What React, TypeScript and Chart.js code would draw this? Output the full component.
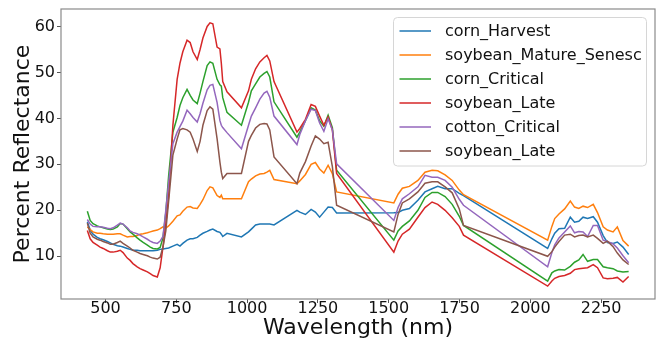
import { useEffect, useRef } from "react";
import { Chart, registerables } from "chart.js";

Chart.register(...registerables);

// Band centres (nm); gaps are the water-absorption bands that were dropped.
const wavelengths = [
  436, 446, 456, 471, 481, 492, 507, 517, 527, 542,
  552, 562, 577, 587, 597, 612, 622, 633, 648, 658,
  668, 683, 693, 703, 713, 723, 738, 753, 763, 773,
  788, 799, 809, 824, 834, 844, 859, 869, 879, 894,
  904, 909, 914, 929, 980, 1005, 1015, 1030, 1045, 1060,
  1070, 1080, 1095, 1176, 1186, 1206, 1226, 1241, 1256, 1271,
  1286, 1301, 1316, 1518, 1533, 1548, 1573, 1603, 1628, 1653,
  1673, 1699, 1724, 1749, 1764, 2061, 2076, 2086, 2101, 2121,
  2141, 2156, 2171, 2186, 2202, 2222, 2237, 2257, 2272, 2292,
  2307, 2327, 2347,
];

const cornHarvest = [
  17.5, 15.7, 14.8, 14.1, 13.8, 13.6, 13.2, 12.9, 12.6, 12.3,
  12.2, 12.0, 11.7, 11.5, 11.3, 11.3, 11.2, 11.2, 11.2, 11.2,
  11.2, 11.3, 11.5, 11.6, 11.7, 11.8, 12.2, 12.6, 12.2, 12.8,
  13.5, 13.8, 13.8, 14.1, 14.6, 15.0, 15.4, 15.7, 15.9, 15.4,
  15.2, 14.8, 14.3, 15.0, 14.2, 15.3, 15.9, 16.8, 17.0, 17.0,
  17.0, 17.0, 16.8, 20.0, 19.6, 19.1, 20.2, 19.6, 18.5, 19.6,
  20.7, 20.6, 19.4, 19.45, 19.5, 20.0, 20.4, 22.2, 24.0, 24.7,
  25.2, 24.7, 24.7, 23.7, 23.2, 11.7, 13.8, 15.0, 16.0, 16.1,
  18.5, 17.4, 17.6, 18.5, 18.2, 18.6, 17.4, 14.5, 13.0, 12.8,
  13.1, 12.0, 10.4,
];

const soybeanMatureSenesc = [
  16.4, 15.8, 15.3, 15.0, 15.0, 14.9, 14.8, 14.8, 14.8, 14.9,
  14.9, 14.6, 14.2, 14.3, 14.3, 14.5, 14.8, 14.9, 15.1, 15.3,
  15.5, 15.7, 16.0, 16.4, 16.1, 16.6, 17.6, 18.8, 19.0, 19.8,
  20.7, 20.8, 20.5, 20.4, 21.3, 22.3, 24.3, 25.1, 24.9, 23.2,
  22.8, 23.3, 22.5, 22.5, 22.5, 26.2, 26.8, 27.5, 27.9, 28.0,
  28.3, 28.7, 26.7, 25.8, 26.4, 27.8, 30.0, 30.4, 29.0, 28.1,
  29.8, 28.0, 24.0, 21.6, 23.5, 24.8, 25.2, 26.5, 28.3, 28.7,
  28.6, 27.7, 26.5, 24.4, 23.4, 13.5, 16.5, 18.2, 19.2, 20.3,
  22.0, 20.7, 20.4, 20.9, 20.6, 21.3, 19.5, 16.4, 15.7, 15.3,
  16.4, 13.4, 12.2,
];

const cornCritical = [
  19.8, 17.8, 17.1, 16.6, 16.4, 16.2, 15.9, 15.8, 15.9, 16.4,
  17.1, 17.0, 16.0, 15.3, 14.8, 14.0, 13.5, 13.0, 12.4, 12.0,
  11.7, 11.6, 11.9, 14.0, 19.5, 27.5, 37.0, 40.2, 42.8, 44.5,
  46.3, 45.0, 44.0, 43.2, 45.5, 48.0, 51.5, 52.3, 52.0, 48.5,
  47.3, 47.0, 44.5, 41.3, 38.5, 43.5, 46.0, 47.5, 49.0, 49.8,
  50.2, 49.0, 43.6, 35.9, 37.0, 39.5, 42.3, 41.8, 39.5, 38.3,
  40.7, 38.0, 28.7, 13.5, 15.5, 16.5, 17.7, 20.0, 22.8, 23.9,
  23.9, 23.0, 21.3, 18.7, 16.7, 4.6, 6.4, 6.8, 7.1, 7.0,
  7.8, 8.7, 9.2, 10.4, 8.9, 9.3, 9.3, 7.7, 7.5, 7.3,
  6.8, 6.6, 6.7,
];

const soybeanLateA = [
  15.6, 13.8, 13.0, 12.4, 12.0, 11.7, 11.2, 10.9, 10.9, 11.1,
  11.3, 10.8, 9.6, 9.1, 8.4, 7.7, 7.3, 7.0, 6.6, 6.2,
  5.8, 5.5, 7.5, 12.0, 17.0, 23.0, 38.5, 48.5, 52.0, 54.5,
  57.0, 56.5, 54.5, 52.8, 55.0, 57.5, 60.0, 60.8, 60.6, 55.5,
  55.1, 52.0, 48.0, 45.8, 42.3, 46.0, 48.5, 50.8, 52.3, 53.2,
  53.7, 52.5, 48.0, 37.0, 37.8, 39.8, 43.0, 42.6, 40.5, 38.5,
  40.3, 37.5, 28.0, 10.9, 13.3, 14.8, 15.9, 18.5, 20.6, 21.8,
  21.3, 20.0, 18.4, 16.5, 14.6, 3.5, 4.6, 5.2, 5.6, 5.8,
  6.3, 7.1, 7.3, 7.4, 7.5, 8.2, 7.5, 5.3, 5.1, 5.2,
  5.4, 4.4, 5.6,
];

const cottonCritical = [
  18.0, 17.0, 16.5, 16.4, 16.4, 16.3, 16.1, 16.0, 16.2, 16.8,
  17.2, 17.0, 16.2, 15.5, 15.2, 14.9, 14.6, 14.2, 13.7, 13.3,
  13.0, 12.8, 13.3, 14.3, 20.0, 26.0, 34.5, 37.0, 38.2, 39.4,
  41.8, 41.0, 40.2, 39.2, 41.0, 43.3, 46.2, 47.2, 47.4, 43.5,
  39.5, 38.5, 38.0, 36.9, 33.4, 38.5, 40.5, 42.3, 44.2, 45.5,
  45.9, 44.6, 40.5, 34.3, 36.5, 39.5, 42.0, 41.7, 39.0, 37.2,
  39.9, 37.5, 30.1, 17.8, 20.6, 22.5, 23.6, 25.1, 27.6, 27.2,
  27.2, 26.5, 25.0, 22.4, 21.1, 7.7, 10.8, 12.5, 14.0, 15.3,
  16.6, 15.1, 15.4, 15.3, 14.3, 16.7, 16.7, 13.5, 13.2, 12.7,
  11.8, 10.1, 8.6,
];

const soybeanLateB = [
  17.2, 15.0, 14.2, 13.7, 13.5, 13.2, 12.9, 12.6, 12.6, 13.0,
  13.3, 12.8, 12.2, 11.8, 11.3, 10.9, 10.6, 10.4, 10.1, 9.8,
  9.6, 9.4, 9.8, 12.0, 15.5, 22.0, 32.0, 35.5, 37.5, 37.8,
  37.5, 37.0, 35.5, 32.8, 35.0, 38.5, 41.7, 42.5, 42.0, 35.6,
  30.5, 28.3, 26.9, 28.0, 28.0, 35.0, 36.3, 37.9, 38.7, 38.9,
  38.8, 37.5, 31.6, 25.8, 28.1, 30.6, 34.0, 36.2, 35.5, 34.5,
  34.8, 29.5, 21.1, 15.3, 19.1, 21.6, 22.5, 24.0, 25.9, 26.2,
  26.2, 25.1, 23.8, 20.3, 16.7, 10.0, 11.0, 12.0, 13.2, 14.6,
  14.8, 14.2, 14.5, 14.6, 14.2, 14.6, 13.9, 12.8, 13.3, 12.1,
  10.7, 9.2, 8.2,
];

const seriesLabels = [
  "corn_Harvest",
  "soybean_Mature_Senesc",
  "corn_Critical",
  "soybean_Late",
  "cotton_Critical",
  "soybean_Late",
];
const seriesValues = [
  cornHarvest,
  soybeanMatureSenesc,
  cornCritical,
  soybeanLateA,
  cottonCritical,
  soybeanLateB,
];
const seriesColors = ["#1f77b4", "#ff7f0e", "#2ca02c", "#d62728", "#9467bd", "#8c564b"];

const xTickValues = [500, 750, 1000, 1250, 1500, 1750, 2000, 2250];
const yTickValues = [10, 20, 30, 40, 50, 60];

const FONT = "'DejaVu Sans', 'Liberation Sans', sans-serif";

// Axes frame drawn on all four sides, over the lines.
const framePlugin = {
  id: "axesFrame",
  afterDatasetsDraw(chart: any) {
    const { ctx, chartArea: a } = chart;
    ctx.save();
    ctx.strokeStyle = "#8a8a8a";
    ctx.lineWidth = 1.2;
    ctx.strokeRect(a.left, a.top, a.right - a.left, a.bottom - a.top);
    ctx.restore();
  },
};

// Boxed legend in the upper-right corner of the plot.
const boxLegendPlugin = {
  id: "boxLegend",
  afterDraw(chart: any) {
    const { ctx, chartArea: a } = chart;
    const datasets = chart.data.datasets;
    const right = a.right - 8.5;
    const top = a.top + 8.5;
    const width = 253;
    const rowH = 24;
    const height = datasets.length * rowH + 4.5;
    const left = right - width;
    const r = 4;
    ctx.save();
    ctx.beginPath();
    ctx.moveTo(left + r, top);
    ctx.lineTo(right - r, top);
    ctx.arcTo(right, top, right, top + r, r);
    ctx.lineTo(right, top + height - r);
    ctx.arcTo(right, top + height, right - r, top + height, r);
    ctx.lineTo(left + r, top + height);
    ctx.arcTo(left, top + height, left, top + height - r, r);
    ctx.lineTo(left, top + r);
    ctx.arcTo(left, top, left + r, top, r);
    ctx.closePath();
    ctx.fillStyle = "rgba(255,255,255,0.8)";
    ctx.fill();
    ctx.strokeStyle = "#d6d6d6";
    ctx.lineWidth = 1;
    ctx.stroke();

    ctx.font = `16px ${FONT}`;
    ctx.textBaseline = "middle";
    ctx.textAlign = "left";
    datasets.forEach((ds: any, i: number) => {
      const y = top + 13.5 + i * rowH;
      ctx.beginPath();
      ctx.strokeStyle = ds.borderColor;
      ctx.lineWidth = 1.5;
      ctx.moveTo(left + 6, y);
      ctx.lineTo(left + 37.5, y);
      ctx.stroke();
      ctx.fillStyle = "#111";
      ctx.fillText(ds.label, left + 51.5, y + 0.5);
    });
    ctx.restore();
  },
};

export default function App() {
  const canvasRef = useRef<HTMLCanvasElement | null>(null);

  useEffect(() => {
    const canvas = canvasRef.current;
    if (!canvas) return;

    const datasets = seriesValues.map((values, i) => ({
      label: seriesLabels[i],
      data: values.map((v, j) => ({ x: wavelengths[j], y: v })),
      borderColor: seriesColors[i],
      backgroundColor: seriesColors[i],
      borderWidth: 1.5,
      pointRadius: 0,
      tension: 0,
      fill: false,
      order: seriesValues.length - i,
    }));

    const chart = new Chart(canvas, {
      type: "line",
      data: { datasets },
      options: {
        animation: false,
        responsive: false,
        devicePixelRatio: 1,
        layout: { padding: { top: 9, right: 4, left: 0, bottom: 0 } },
        plugins: {
          legend: { display: false },
          tooltip: { enabled: false },
        },
        scales: {
          x: {
            type: "linear",
            min: 343,
            max: 2440,
            afterBuildTicks: (s: any) => {
              s.ticks = xTickValues.map((v) => ({ value: v }));
            },
            afterFit: (s: any) => {
              s.height = 44;
              s.paddingLeft = 0;
              s.paddingRight = 0;
            },
            border: { display: false },
            grid: {
              display: true,
              drawOnChartArea: false,
              drawTicks: true,
              tickLength: 4,
              color: "#555",
            },
            ticks: {
              autoSkip: false,
              maxRotation: 0,
              padding: 0,
              color: "#111",
              font: { family: FONT, size: 16, lineHeight: 0.75 },
              callback: (v: any) => String(v),
            },
            title: {
              display: true,
              text: "Wavelength (nm)",
              color: "#111",
              font: { family: FONT, size: 22 },
              padding: { top: 0, bottom: 1.5 },
            },
          },
          y: {
            type: "linear",
            min: 0.7,
            max: 63.8,
            afterBuildTicks: (s: any) => {
              s.ticks = yTickValues.map((v) => ({ value: v }));
            },
            afterFit: (s: any) => {
              s.width = 61;
              s.paddingTop = 0;
              s.paddingBottom = 0;
            },
            border: { display: false },
            grid: {
              display: true,
              drawOnChartArea: false,
              drawTicks: true,
              tickLength: 4,
              color: "#555",
            },
            ticks: {
              padding: 2,
              color: "#111",
              font: { family: FONT, size: 16 },
              callback: (v: any) => String(v),
            },
            title: {
              display: true,
              text: "Percent Reflectance",
              color: "#111",
              font: { family: FONT, size: 22 },
              padding: { top: 10.5, bottom: 0 },
            },
          },
        },
      },
      plugins: [framePlugin, boxLegendPlugin],
    });

    return () => chart.destroy();
  }, []);

  return (
    <div style={{ position: "absolute", left: 0, top: 0, width: 659, height: 343, background: "#fff" }}>
      <canvas ref={canvasRef} width={659} height={343} style={{ display: "block" }} />
    </div>
  );
}
